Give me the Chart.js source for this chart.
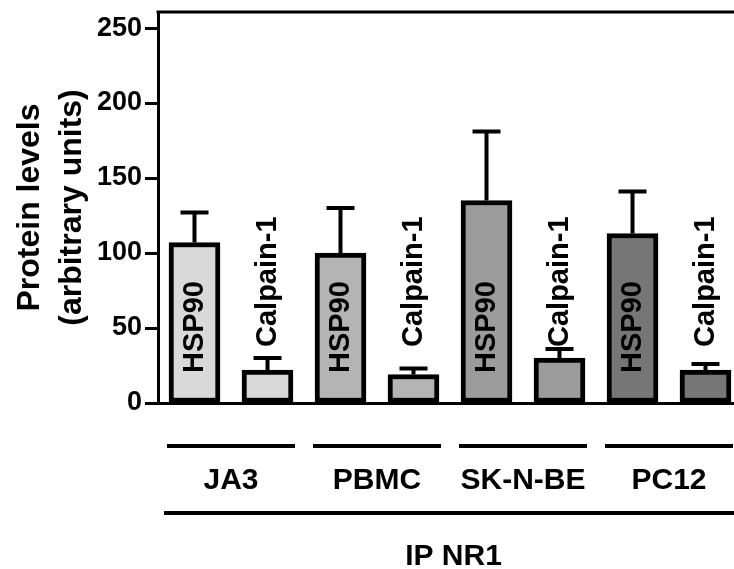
<!DOCTYPE html>
<html>
<head>
<meta charset="utf-8">
<script src="https://cdn.jsdelivr.net/npm/chart.js@4/dist/chart.umd.min.js"></script>
<style>
  html, body { margin: 0; padding: 0; background: #fff; overflow: hidden; }
  #wrap { width: 742px; height: 569px; }
</style>
</head>
<body>
<div id="wrap"><canvas id="proteinChart"></canvas></div>
<script>
/* ==============================
   DATA
============================== */
const groups = ["JA3", "PBMC", "SK-N-BE", "PC12"];
const proteins = ["HSP90", "Calpain-1"];
const hsp90Mean = [107, 100, 135, 113];
const hsp90Err = [20, 30, 46, 28];
const calpainMean = [22, 19, 30, 22];
const calpainErr = [8, 4, 6, 4];
const yTicks = [0, 50, 100, 150, 200, 250];
const groupTitle = "IP NR1";
const yTitle = ["Protein levels", "(arbitrary units)"];

const groupColors = ["#d9d9d9", "#b4b4b4", "#9c9c9c", "#767676"];
const FONT = "'Liberation Sans', Arial, Helvetica, sans-serif";

// one bar per (group, protein)
const barLabels = [];
const barValues = [];
const barErrors = [];
const barColors = [];
groups.forEach((g, i) => {
  barLabels.push(g + " " + proteins[0], g + " " + proteins[1]);
  barValues.push(hsp90Mean[i], calpainMean[i]);
  barErrors.push(hsp90Err[i], calpainErr[i]);
  barColors.push(groupColors[i], groupColors[i]);
});

/* ==============================
   PLUGINS
============================== */
const errorBars = {
  id: "errorBars",
  afterDatasetsDraw(chart) {
    const ctx = chart.ctx;
    const y = chart.scales.y;
    const meta = chart.getDatasetMeta(0);
    ctx.save();
    ctx.strokeStyle = "#000";
    ctx.lineWidth = 4;
    meta.data.forEach((bar, i) => {
      const top = y.getPixelForValue(barValues[i] + barErrors[i]);
      const base = y.getPixelForValue(barValues[i]);
      ctx.beginPath();
      ctx.moveTo(bar.x, base);
      ctx.lineTo(bar.x, top);
      ctx.moveTo(bar.x - 14, top);
      ctx.lineTo(bar.x + 14, top);
      ctx.stroke();
    });
    ctx.restore();
  }
};

const annotations = {
  id: "annotations",
  afterDraw(chart) {
    const ctx = chart.ctx;
    const area = chart.chartArea;
    const y = chart.scales.y;
    const meta = chart.getDatasetMeta(0);
    const zero = y.getPixelForValue(0);

    ctx.save();
    ctx.fillStyle = "#000";
    ctx.strokeStyle = "#000";

    // top frame line
    ctx.lineWidth = 3;
    ctx.beginPath();
    ctx.moveTo(area.left - 1.5, area.top);
    ctx.lineTo(area.right + 5, area.top);
    ctx.stroke();

    // rotated protein names in/above bars
    ctx.font = "bold 29px " + FONT;
    ctx.textAlign = "left";
    ctx.textBaseline = "middle";
    meta.data.forEach((bar, i) => {
      const isHsp = i % 2 === 0;
      ctx.save();
      ctx.translate(bar.x, zero - (isHsp ? 30 : 56));
      ctx.rotate(-Math.PI / 2);
      ctx.fillText(proteins[i % 2], 0, 0);
      ctx.restore();
    });

    // group lines + names
    const half = meta.data[0].width / 2;
    ctx.lineWidth = 4;
    ctx.font = "bold 30px " + FONT;
    ctx.textAlign = "center";
    groups.forEach((g, i) => {
      const l = meta.data[2 * i].x - half - 2;
      const r = meta.data[2 * i + 1].x + half + 2;
      ctx.beginPath();
      ctx.moveTo(l, zero + 43);
      ctx.lineTo(r, zero + 43);
      ctx.stroke();
      ctx.fillText(g, (l + r) / 2, zero + 78);
    });

    // bracket for IP
    const first = meta.data[0].x - half - 5;
    const last = meta.data[meta.data.length - 1].x + half + 12;
    ctx.beginPath();
    ctx.moveTo(first, zero + 110);
    ctx.lineTo(last, zero + 110);
    ctx.stroke();
    ctx.fillText(groupTitle, (first + last) / 2, zero + 154);

    // y axis title, two rotated lines
    ctx.font = "bold 32px " + FONT;
    const midY = (area.top + area.bottom) / 2;
    [30, 72].forEach((x, k) => {
      ctx.save();
      ctx.translate(x, midY);
      ctx.rotate(-Math.PI / 2);
      ctx.fillText(yTitle[k], 0, 0);
      ctx.restore();
    });
    ctx.restore();
  }
};

/* ==============================
   CHART
============================== */
new Chart(document.getElementById("proteinChart"), {
  type: "bar",
  data: {
    labels: barLabels,
    datasets: [{
      data: barValues,
      backgroundColor: barColors,
      borderColor: "#000",
      borderWidth: 5,
      borderSkipped: false,
      barThickness: 51
    }]
  },
  options: {
    responsive: true,
    maintainAspectRatio: false,
    animation: false,
    layout: { padding: { top: 12, bottom: 166, left: 0, right: 0 } },
    plugins: { legend: { display: false }, tooltip: { enabled: false } },
    scales: {
      x: {
        grid: { display: false },
        ticks: { display: false },
        border: { display: true, color: "#000", width: 3 },
        afterFit(scale) { scale.height = 0; scale.paddingLeft = 0; scale.paddingRight = 0; }
      },
      y: {
        min: 0,
        max: 260.7,
        afterBuildTicks(scale) { scale.ticks = yTicks.map(v => ({ value: v })); },
        afterFit(scale) { scale.width = 158; scale.paddingTop = 0; scale.paddingBottom = 0; },
        grid: { display: true, drawOnChartArea: false, tickLength: 13, tickWidth: 3, tickColor: "#000" },
        border: { display: true, color: "#000", width: 3 },
        ticks: {
          color: "#000",
          padding: 3,
          font: { family: FONT, size: 27, weight: "bold" }
        }
      }
    }
  },
  plugins: [errorBars, annotations]
});
</script>
</body>
</html>
